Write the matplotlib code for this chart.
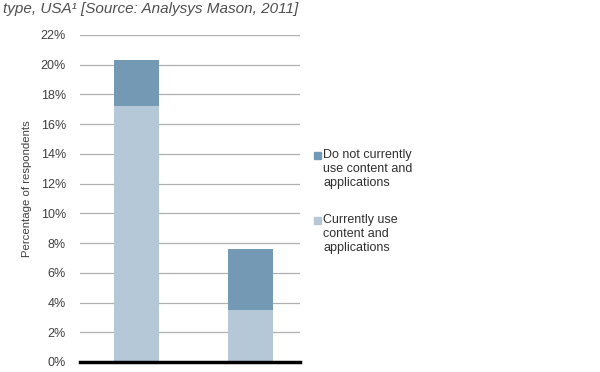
import matplotlib
matplotlib.use('Agg')
import matplotlib.pyplot as plt
from matplotlib.patches import Rectangle
import numpy as np

plt.rcParams['font.family'] = ['Liberation Sans', 'DejaVu Sans']

# data (percent of respondents)
groups = ['Group A', 'Group B']
current_use = [17.2, 3.5]
not_current = [3.1, 4.1]
yticks = np.arange(0, 23, 2)
legend_labels = ['Do not currently\nuse content and\napplications',
                 'Currently use\ncontent and\napplications']

dark = '#7399b4'
light = '#b5c8d8'

W, H = 600, 372
fig = plt.figure(figsize=(6, 3.72), dpi=100)
ax = fig.add_axes([0.133, 0.027, 0.367, 0.879])

x = np.arange(len(groups))
ax.bar(x, current_use, width=0.395, color=light, zorder=3)
ax.bar(x, not_current, width=0.395, bottom=current_use, color=dark, zorder=3)

ax.set_xlim(-0.5, 1.43)
ax.set_ylim(0, 22)
ax.set_yticks(yticks)
ax.set_yticklabels([f'{t}%' for t in yticks], fontsize=9, color='#404040')
ax.set_xticks([])
ax.grid(axis='y', color='#b0b0b0', linewidth=0.9, zorder=0)
ax.tick_params(axis='y', length=0, pad=10)
for s in ['top', 'right', 'left']:
    ax.spines[s].set_visible(False)
ax.spines['bottom'].set_color('black')
ax.spines['bottom'].set_linewidth(2.5)
ax.spines['bottom'].set_zorder(5)
ax.set_ylabel('Percentage of respondents', fontsize=8.2, color='#404040')
ax.yaxis.set_label_coords(-0.215, 0.53)

# legend drawn by hand so the square sits on the first line
for lab, col, top in zip(legend_labels, [dark, light], [149, 214]):
    fig.patches.append(Rectangle((314 / W, 1 - (top + 10) / H), 7 / W, 7 / H,
                                 transform=fig.transFigure, color=col))
    fig.text(323 / W, 1 - top / H, lab, fontsize=9, color='#303030',
             va='top', ha='left', linespacing=1.2)

fig.text(0.005, 1 - 13 / H, 'type, USA\u00b9 [Source: Analysys Mason, 2011]',
         fontsize=11, style='italic', color='#505050', va='baseline', ha='left')

fig.savefig('out.png', dpi=100)
